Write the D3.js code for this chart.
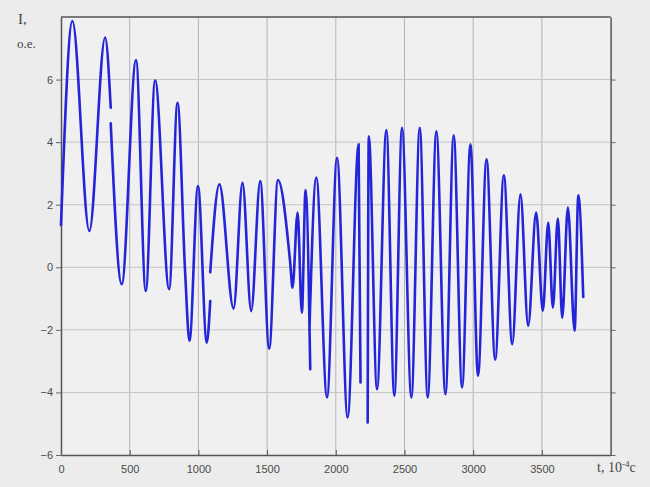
<!DOCTYPE html>
<html lang="ru">
<head>
<meta charset="UTF-8">
<title>I(t)</title>
<script src="https://d3js.org/d3.v7.min.js"></script>
<style>
    body {
        margin: 0;
        padding: 0;
        background-color: #ececec;
    }
    svg {
        display: block;
    }
    .tick text {
        font-family: 'Liberation Sans', sans-serif;
        font-size: 11px;
        fill: #4a4a4a;
    }
    .axis-title {
        font-family: 'Liberation Serif', serif;
        fill: #444;
    }
</style>
</head>
<body>
<svg id="chart" width="650" height="487"></svg>

<script>
    // Values: time in 10^-4 s, current in o.e.
    // null in currentVals marks a break in the trace
    const timeVals = [
        0, 83, 206, 321, 362,
        362,
        362, 442, 546, 617, 685, 787, 848, 903, 935, 997, 1061, 1086,
        1086,
        1086, 1153, 1256, 1321, 1384, 1450, 1515, 1579, 1668, 1685, 1722, 1753, 1780, 1814,
        1814,
        1808, 1858, 1936, 2009, 2086, 2166, 2180,
        2180,
        2232, 2240, 2300, 2368, 2426, 2482, 2550, 2611, 2669, 2732, 2798, 2858, 2919,
        2980, 3035, 3097, 3160, 3223, 3284, 3344, 3400, 3458, 3507, 3546, 3580, 3616,
        3648, 3689, 3738, 3765, 3801
    ];
    const currentVals = [
        1.35, 7.87, 1.16, 7.34, 5.1,
        null,
        4.6, -0.54, 6.62, -0.76, 5.98, -0.7, 5.26, -0.12, -2.35, 2.6, -2.41, -1.08,
        null,
        -0.16, 2.65, -1.32, 2.7, -1.4, 2.76, -2.6, 2.79, 0.16, -0.65, 1.75, -1.45, 2.47, -3.26,
        null,
        -2.0, 2.87, -4.16, 3.5, -4.8, 3.93, -3.68,
        null,
        -4.96, 4.19, -3.9, 4.39, -4.11, 4.46, -4.16, 4.46, -4.16, 4.35, -4.06, 4.22, -3.84,
        3.93, -3.47, 3.45, -2.95, 2.94, -2.46, 2.33, -1.87, 1.75, -1.39, 1.43, -1.29, 1.56,
        -1.61, 1.91, -2.03, 2.3, -0.95
    ];

    const xTicks = [0, 500, 1000, 1500, 2000, 2500, 3000, 3500];
    const yTicks = [-6, -4, -2, 0, 2, 4, 6];

    const data = timeVals.map((t, i) => ({ t, v: currentVals[i] }));

    const svg = d3.select("#chart");
    const margin = { top: 17, right: 39.4, bottom: 32, left: 61 };
    const width = +svg.attr("width") - margin.left - margin.right;
    const height = +svg.attr("height") - margin.top - margin.bottom;

    const chart = svg.append("g")
        .attr("transform", `translate(${margin.left},${margin.top})`);

    const xScale = d3.scaleLinear().domain([0, 4000]).range([0, width]);
    const yScale = d3.scaleLinear().domain([-6, 8]).range([height, 0]);

    // plot background
    chart.append("rect")
        .attr("width", width)
        .attr("height", height)
        .attr("fill", "#f0f0f0");

    // grid
    chart.append("g")
        .selectAll("line")
        .data(xTicks.slice(1))
        .join("line")
        .attr("x1", d => xScale(d))
        .attr("x2", d => xScale(d))
        .attr("y1", 0)
        .attr("y2", height)
        .attr("stroke", "#b4b4b4")
        .attr("stroke-width", 1);

    chart.append("g")
        .selectAll("line")
        .data(yTicks.slice(1))
        .join("line")
        .attr("x1", 0)
        .attr("x2", width)
        .attr("y1", d => yScale(d))
        .attr("y2", d => yScale(d))
        .attr("stroke", "#c4c4c4")
        .attr("stroke-width", 1);

    // axes
    const xAxis = chart.append("g")
        .attr("transform", `translate(0,${height})`)
        .call(d3.axisBottom(xScale).tickValues(xTicks).tickFormat(d3.format("d"))
            .tickSizeInner(-5).tickSizeOuter(0).tickPadding(10));
    xAxis.select(".domain").attr("stroke", "#555").attr("stroke-width", 1.5);
    xAxis.selectAll(".tick line").attr("stroke", "#555");

    const yAxis = chart.append("g")
        .call(d3.axisLeft(yScale).tickValues(yTicks).tickSize(5).tickSizeOuter(0).tickPadding(3));
    yAxis.select(".domain").attr("stroke", "#555").attr("stroke-width", 1.5);
    yAxis.selectAll(".tick line").attr("stroke", "#666");

    // top and right frame
    chart.append("line")
        .attr("x1", 0).attr("x2", width)
        .attr("y1", 0).attr("y2", 0)
        .attr("stroke", "#555").attr("stroke-width", 1.5);

    const rightAxis = chart.append("g")
        .attr("transform", `translate(${width},0)`)
        .call(d3.axisLeft(yScale).tickValues(yTicks).tickSize(-5).tickSizeOuter(0).tickFormat(""));
    rightAxis.select(".domain").attr("stroke", "#555").attr("stroke-width", 1.5);
    rightAxis.selectAll(".tick line").attr("stroke", "#666");

    // the trace
    chart.append("path")
        .datum(data)
        .attr("fill", "none")
        .attr("stroke", "#2424d8")
        .attr("stroke-width", 2.6)
        .attr("stroke-linejoin", "round")
        .attr("stroke-linecap", "round")
        .attr("d", d3.line()
            .defined(d => d.v !== null)
            .curve(d3.curveMonotoneX)
            .x(d => xScale(d.t))
            .y(d => yScale(d.v)));

    // axis titles
    svg.append("text")
        .attr("class", "axis-title")
        .attr("x", 18)
        .attr("y", 24)
        .style("font-size", "15px")
        .text("I,");

    svg.append("text")
        .attr("class", "axis-title")
        .attr("x", 17)
        .attr("y", 48)
        .style("font-size", "13px")
        .text("o.e.");

    const xTitle = svg.append("text")
        .attr("class", "axis-title")
        .attr("x", 597)
        .attr("y", 472)
        .style("font-size", "14px");
    xTitle.append("tspan").text("t, 10");
    xTitle.append("tspan").attr("dy", -5).style("font-size", "9px").text("-4");
    xTitle.append("tspan").attr("dy", 5).text("c");
</script>
</body>
</html>
